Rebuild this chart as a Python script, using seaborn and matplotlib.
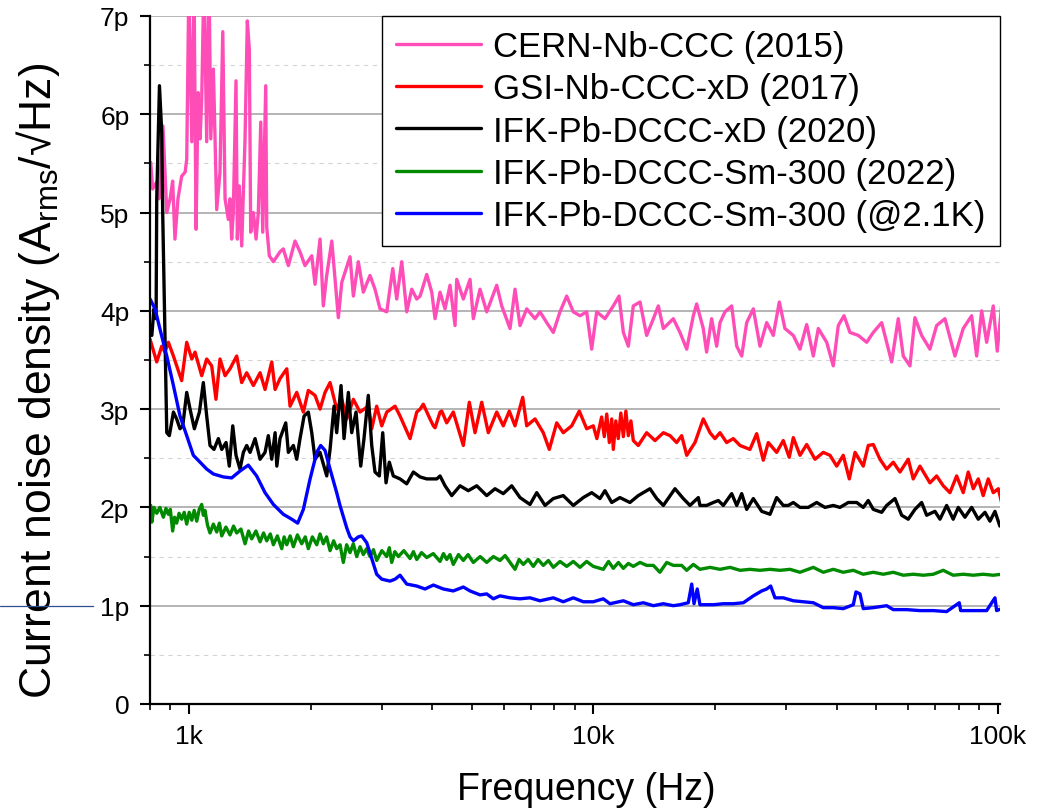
import numpy as np
import pandas as pd
import matplotlib
matplotlib.use("Agg")
import matplotlib.pyplot as plt
import matplotlib.transforms as mtransforms
from matplotlib.ticker import LogLocator, MultipleLocator, NullFormatter
import seaborn as sns

# Bruit en courant (pA/sqrt(Hz)), fréquences en Hz
cern_freq = [805, 814, 833, 844, 863, 882, 899, 912, 924, 940, 960, 979, 988, 1000, 1017, 1030, 1042, 1054,
             1066, 1076, 1090, 1107, 1122, 1133, 1150, 1172, 1194, 1213, 1229, 1252, 1264, 1276, 1288, 1308,
             1318, 1333, 1351, 1377, 1395, 1411, 1422, 1444, 1466, 1485, 1506, 1523, 1549, 1558, 1581, 1618,
             1680, 1712, 1762, 1830, 1883, 1937, 2013, 2051, 2110, 2150, 2192, 2256, 2342, 2388, 2503, 2551,
             2624, 2700, 2804, 2885, 2969, 3085, 3192, 3265, 3359, 3456, 3556, 3659, 3729, 3873, 3985, 4061,
             4178, 4298, 4422, 4550, 4594, 4770, 4955, 5049, 5245, 5449, 5768, 5935, 6222, 6401, 6586, 6842,
             7173, 7379, 7667, 7960, 8269, 8590, 8920, 9267, 9625, 9903, 10190, 10680, 11200, 11570, 11860,
             12200, 12550, 13040, 13540, 14070, 14470, 14890, 15760, 16370, 17010, 17660, 18000, 18690, 19050,
             19600, 20170, 20560, 21150, 21970, 22610, 23260, 23930, 24850, 25810, 26810, 27840, 28810, 29750,
             31200, 32410, 33670, 34960, 35970, 37730, 39170, 40300, 41640, 43080, 45160, 47370, 49180, 51590,
             54610, 56700, 58340, 60600, 62350, 64770, 67900, 70540, 73960, 78290, 82070, 86100, 88580, 91150,
             93780, 97370, 99610, 102100]
cern_pA = [5.51, 5.24, 5.31, 5.14, 5.88, 5.0, 5.14, 5.32, 4.73, 5.14, 5.37, 5.41, 5.54, 7.3, 5.72, 7.3, 4.83, 6.22,
           5.75, 6.15, 7.4, 5.72, 7.4, 5.75, 6.46, 5.03, 5.41, 6.84, 5.14, 4.93, 5.14, 4.73, 5.0, 6.34,
           4.73, 5.27, 4.66, 5.75, 6.95, 6.66, 4.80, 5.0, 4.73, 5.0, 5.92, 4.80, 6.29, 4.85, 4.56, 4.50,
           4.60, 4.63, 4.46, 4.71, 4.60, 4.46, 4.56, 4.27, 4.73, 4.05, 4.36, 4.71, 3.93, 4.29, 4.55, 4.15,
           4.50, 4.19, 4.36, 4.22, 4.02, 3.99, 4.43, 4.12, 4.50, 3.99, 4.22, 4.12, 4.15, 4.37, 4.19, 3.92,
           4.19, 4.02, 4.26, 3.85, 4.32, 4.12, 4.32, 3.92, 4.22, 3.99, 4.26, 4.05, 3.82, 4.22, 3.85, 4.02,
           3.92, 3.99, 3.88, 3.78, 3.99, 4.15, 3.99, 3.95, 3.99, 3.61, 3.99, 3.92, 4.05, 4.15, 3.78,
           3.64, 4.05, 4.09, 3.75, 3.92, 4.05, 3.82, 3.92, 3.78, 3.61, 3.95, 4.07, 3.82, 3.58,
           3.92, 3.64, 3.88, 3.99, 4.05, 3.64, 3.54, 3.88, 4.02, 3.64, 3.88, 3.75, 4.09, 3.82,
           3.75, 3.61, 3.86, 3.54, 3.82, 3.68, 3.44, 3.85, 3.95, 3.78, 3.75, 3.68, 3.78, 3.88,
           3.48, 3.92, 3.54, 3.44, 3.93, 3.75, 3.61, 3.85, 3.92, 3.54, 3.82, 3.95, 3.54, 4.00,
           3.68, 4.05, 3.59, 4.05]

gsi_freq = [802, 833, 857, 873, 890, 916, 960, 988, 1017, 1036, 1076, 1107, 1139, 1167, 1194, 1229, 1264, 1313,
            1351, 1390, 1444, 1500, 1543, 1603, 1634, 1680, 1746, 1779, 1848, 1919, 1974, 2051, 2110, 2171,
            2234, 2320, 2388, 2457, 2551, 2649, 2777, 2832, 2913, 2998, 3085, 3234, 3327, 3522, 3659, 3729,
            3798, 3946, 4022, 4061, 4178, 4218, 4339, 4505, 4770, 4935, 5098, 5296, 5499, 5768, 5988, 6196,
            6401, 6688, 6842, 7173, 7519, 7780, 8115, 8425, 8839, 9229, 9625, 9995, 10200, 10480, 10640,
            10790, 10950, 11100, 11200, 11360, 11520, 11690, 11860, 12030, 12200, 12380, 12550, 12910, 13540,
            14200, 14890, 15470, 16060, 16530, 17010, 17830, 18690, 19420, 19970, 20560, 21350, 22170, 23040,
            24380, 25330, 26300, 27060, 28380, 29470, 30490, 31200, 32410, 33670, 35300, 37000, 38450, 39940,
            41460, 42910, 44340, 46460, 47800, 49180, 51090, 53080, 55110, 57260, 60010, 61740, 64150, 67900,
            70540, 73250, 76100, 79050, 82070, 84450, 86900, 89400, 91940, 94620, 97370, 100200, 102100]
gsi_pA = [3.71, 3.48, 3.64, 3.58, 3.68, 3.54, 3.29, 3.68, 3.51, 3.58, 3.34, 3.51, 3.44, 3.10, 3.51, 3.34, 3.41, 3.54,
          3.27, 3.37, 3.24, 3.37, 3.20, 3.48, 3.20, 3.31, 3.41, 3.03, 3.17, 2.97, 3.19, 3.14, 3.00, 3.17,
          3.27, 3.00, 3.10, 2.90, 3.10, 2.97, 3.03, 2.80, 3.03, 2.83, 2.97, 3.03, 2.93, 2.70, 2.97, 3.00,
          3.05, 2.90, 2.83, 2.81, 2.97, 2.98, 2.86, 2.97, 2.63, 3.07, 2.76, 3.07, 2.76, 2.97, 2.83, 2.98,
          2.83, 3.12, 2.83, 2.90, 2.76, 2.59, 2.86, 2.76, 2.83, 2.98, 2.80, 2.83, 2.70, 2.92, 2.72,
          2.95, 2.66, 2.90, 2.59, 2.88, 2.70, 2.96, 2.72, 2.98, 2.73, 2.88, 2.68, 2.63, 2.76,
          2.68, 2.76, 2.73, 2.66, 2.73, 2.53, 2.66, 2.90, 2.76, 2.70, 2.76, 2.66, 2.70, 2.63,
          2.59, 2.75, 2.48, 2.66, 2.56, 2.68, 2.51, 2.71, 2.53, 2.64, 2.49, 2.56, 2.53, 2.42,
          2.53, 2.29, 2.56, 2.42, 2.63, 2.64, 2.49, 2.39, 2.46, 2.36, 2.49, 2.29, 2.42, 2.25,
          2.32, 2.22, 2.15, 2.32, 2.15, 2.36, 2.19, 2.29, 2.12, 2.29, 2.15, 2.19, 2.05]

xd_freq = [802, 810, 820, 830, 833, 846, 857, 862, 882, 895, 916, 933, 951, 966, 988, 1007, 1032, 1062, 1086,
           1107, 1128, 1154, 1183, 1206, 1236, 1259, 1284, 1308, 1338, 1364, 1390, 1417, 1458, 1500, 1543,
           1572, 1603, 1634, 1650, 1680, 1736, 1762, 1813, 1848, 1883, 1927, 1974, 2013, 2051, 2110, 2192,
           2234, 2285, 2320, 2378, 2419, 2479, 2527, 2590, 2660, 2710, 2777, 2832, 2885, 2957, 3015, 3072,
           3130, 3202, 3327, 3456, 3589, 3729, 3873, 3946, 4101, 4178, 4298, 4465, 4681, 4907, 5148, 5449,
           5713, 5988, 6282, 6586, 6971, 7243, 7594, 7960, 8425, 8920, 9441, 9903, 10380, 10680, 11100,
           11630, 12310, 12910, 13800, 14340, 14890, 15910, 16680, 17330, 18170, 18340, 19050, 19790, 20360,
           20950, 21970, 22610, 23260, 23930, 24850, 26060, 27330, 28380, 29470, 30320, 31200, 32410, 33970,
           35640, 37360, 39170, 40690, 42660, 44760, 46460, 47800, 49180, 51590, 53080, 55650, 57810, 60010,
           62350, 64770, 66650, 69870, 71890, 74680, 77510, 79790, 82870, 86100, 89400, 92880, 95550, 98310,
           101100]
xd_pA = [3.78, 3.75, 4.02, 3.92, 5.14, 6.29, 5.82, 4.97, 2.76, 2.73, 2.97, 2.90, 2.80, 2.83, 3.17, 3.00, 2.80, 2.97, 3.27,
         2.93, 2.63, 2.59, 2.70, 2.59, 2.66, 2.42, 2.83, 2.53, 2.39, 2.56, 2.63, 2.56, 2.70, 2.49, 2.56,
         2.73, 2.49, 2.76, 2.42, 2.70, 2.86, 2.56, 2.63, 2.49, 2.70, 2.93, 2.97, 2.76, 2.49, 2.56, 2.32,
         2.59, 3.03, 2.76, 3.24, 2.70, 3.17, 2.76, 2.97, 2.42, 2.70, 3.14, 2.63, 2.36, 2.32, 2.76, 2.25,
         2.46, 2.32, 2.29, 2.24, 2.36, 2.31, 2.29, 2.29, 2.29, 2.32, 2.22, 2.12, 2.22, 2.17, 2.22, 2.12,
         2.19, 2.14, 2.22, 2.10, 2.03, 2.15, 2.02, 2.09, 2.12, 2.02, 2.10, 2.15, 2.09, 2.17, 2.05,
         2.10, 2.05, 2.12, 2.19, 2.09, 2.02, 2.19, 2.09, 2.02, 2.10, 2.02, 2.02, 2.05, 2.07,
         2.02, 2.14, 2.02, 2.14, 1.98, 2.09, 1.96, 1.93, 2.10, 2.02, 2.02, 2.05, 2.00, 2.00,
         2.05, 2.00, 2.02, 2.00, 2.05, 2.05, 2.00, 2.07, 1.98, 1.95, 2.02, 2.09, 1.92, 1.88,
         1.98, 2.05, 1.92, 1.96, 1.88, 2.02, 1.88, 2.00, 1.90, 2.00, 1.88, 1.95, 1.86, 1.96,
         1.81]

sm300_freq = [805, 810, 820, 833, 848, 865, 878, 890, 900, 912, 922, 933, 946, 960, 974, 988, 1002, 1017, 1031,
              1046, 1061, 1076, 1086, 1096, 1112, 1128, 1150, 1172, 1190, 1206, 1235, 1264, 1290, 1313, 1345,
              1377, 1405, 1430, 1465, 1500, 1530, 1558, 1590, 1618, 1655, 1697, 1720, 1746, 1780, 1813, 1855,
              1901, 1940, 1974, 2020, 2071, 2110, 2150, 2190, 2234, 2280, 2320, 2365, 2409, 2455, 2503, 2550,
              2600, 2650, 2700, 2750, 2804, 2860, 2913, 3000, 3085, 3130, 3173, 3230, 3295, 3400, 3522, 3590,
              3659, 3760, 3873, 4020, 4178, 4260, 4339, 4420, 4505, 4640, 4770, 4900, 5049, 5250, 5449, 5660,
              5877, 6050, 6222, 6401, 6550, 6710, 6900, 7104, 7300, 7519, 7740, 7960, 8270, 8590, 8920, 9267,
              9620, 9995, 10580, 10900, 11200, 11530, 11860, 12200, 12550, 13040, 13540, 14070, 14600, 15180,
              15760, 16530, 17010, 17660, 18340, 19420, 20560, 21770, 23040, 24380, 25810, 27330, 28920, 30610,
              32410, 34960, 37000, 39170, 41460, 43900, 46460, 49180, 52060, 55110, 58340, 61740, 65380, 69210,
              73250, 77510, 82070, 86900, 91940, 97370, 102100]
sm300_pA = [2.02, 1.85, 2.00, 1.94, 2.00, 1.90, 1.99, 1.93, 1.98, 1.76, 1.90, 1.84, 1.94, 1.88, 1.95, 1.83, 1.95, 1.87, 1.97,
            1.86, 1.98, 2.03, 1.92, 1.97, 1.82, 1.74, 1.83, 1.75, 1.84, 1.71, 1.80, 1.72, 1.81, 1.74, 1.78,
            1.63, 1.76, 1.68, 1.76, 1.65, 1.74, 1.66, 1.73, 1.62, 1.71, 1.58, 1.70, 1.62, 1.71, 1.60, 1.72,
            1.63, 1.70, 1.58, 1.70, 1.62, 1.73, 1.63, 1.70, 1.56, 1.66, 1.58, 1.62, 1.44, 1.62, 1.54, 1.63,
            1.50, 1.60, 1.52, 1.58, 1.50, 1.57, 1.46, 1.56, 1.50, 1.59, 1.44, 1.55, 1.50, 1.56, 1.48, 1.55,
            1.47, 1.54, 1.49, 1.53, 1.45, 1.53, 1.47, 1.52, 1.42, 1.52, 1.46, 1.52, 1.44, 1.50, 1.44, 1.50,
            1.46, 1.51, 1.44, 1.37, 1.47, 1.42, 1.47, 1.40, 1.47, 1.41, 1.46, 1.39, 1.45, 1.40, 1.45, 1.39,
            1.45, 1.40, 1.37, 1.45, 1.38, 1.44, 1.38, 1.43, 1.40, 1.44, 1.41, 1.41, 1.34, 1.44,
            1.41, 1.41, 1.36, 1.42, 1.37, 1.39, 1.37, 1.39, 1.36, 1.37, 1.36, 1.37, 1.36, 1.37,
            1.34, 1.39, 1.34, 1.37, 1.34, 1.36, 1.32, 1.34, 1.32, 1.34, 1.31, 1.32, 1.31, 1.32,
            1.36, 1.31, 1.32, 1.31, 1.32, 1.31, 1.32]

k21_freq = [802, 825, 849, 882, 916, 951, 988, 1026, 1066, 1107, 1150, 1217, 1276, 1338, 1403, 1471, 1543, 1618,
            1712, 1796, 1858, 1919, 1994, 2071, 2118, 2171, 2234, 2320, 2364, 2457, 2503, 2551, 2624, 2675,
            2753, 2832, 2913, 2998, 3143, 3234, 3327, 3456, 3659, 3835, 4022, 4256, 4505, 4770, 4955, 5245,
            5449, 5657, 5877, 6222, 6586, 6971, 7379, 7960, 8425, 8920, 9441, 9995, 10580, 10990, 11860,
            12550, 13290, 14070, 14890, 15760, 16370, 17160, 17500, 17730, 18060, 18340, 19790, 20950, 22170,
            23480, 24850, 26060, 26810, 27430, 28110, 29470, 31200, 33020, 34960, 37000, 39170, 41460, 43900,
            44570, 45600, 46460, 49180, 53080, 55110, 59490, 64150, 69210, 74680, 80250, 80880, 86900, 93780,
            98310, 99260, 102100]
k21_pA = [4.12, 4.02, 3.81, 3.54, 3.24, 2.93, 2.73, 2.53, 2.46, 2.39, 2.34, 2.31, 2.30, 2.37, 2.43, 2.32, 2.15, 2.03,
          1.93, 1.88, 1.84, 1.98, 2.29, 2.56, 2.63, 2.58, 2.39, 2.15, 2.02, 1.79, 1.70, 1.66, 1.70, 1.71,
          1.64, 1.48, 1.32, 1.27, 1.25, 1.27, 1.31, 1.22, 1.20, 1.17, 1.21, 1.17, 1.15, 1.19, 1.15, 1.11,
          1.12, 1.07, 1.10, 1.08, 1.07, 1.08, 1.05, 1.08, 1.04, 1.08, 1.04, 1.04, 1.07, 1.02, 1.05,
          1.01, 1.03, 1.00, 1.02, 1.00, 1.01, 1.03, 1.22, 1.02, 1.17, 1.01, 1.01, 1.02, 1.02,
          1.03, 1.10, 1.15, 1.17, 1.20, 1.08, 1.08, 1.05, 1.04, 1.03, 0.98, 0.98, 0.97, 1.01,
          1.14, 1.12, 0.97, 0.98, 1.00, 0.96, 0.96, 0.95, 0.95, 0.94, 1.03, 0.95, 0.95, 0.95,
          1.08, 0.95, 0.97]

series = [
    ("CERN-Nb-CCC (2015)", cern_freq, cern_pA, "#ff4db8"),
    ("GSI-Nb-CCC-xD (2017)", gsi_freq, gsi_pA, "#ff0000"),
    ("IFK-Pb-DCCC-xD (2020)", xd_freq, xd_pA, "#000000"),
    ("IFK-Pb-DCCC-Sm-300 (2022)", sm300_freq, sm300_pA, "#008a00"),
    ("IFK-Pb-DCCC-Sm-300 (@2.1K)", k21_freq, k21_pA, "#0000ff"),
]

y_ticks = [0, 1, 2, 3, 4, 5, 6, 7]
y_tick_labels = ["0", "1p", "2p", "3p", "4p", "5p", "6p", "7p"]
x_ticks = [1e3, 1e4, 1e5]
x_tick_labels = ["1k", "10k", "100k"]

sns.set_theme(style="white")
plt.rcParams["font.family"] = ["Liberation Sans", "DejaVu Sans"]
plt.rcParams["mathtext.fontset"] = "custom"
plt.rcParams["mathtext.rm"] = "Liberation Sans"
for key in ["text.color", "axes.labelcolor", "xtick.color", "ytick.color"]:
    plt.rcParams[key] = "black"

fig = plt.figure(figsize=(10.42, 8.12), dpi=100)
ax = fig.add_axes([0.1436, 0.1318, 0.8158, 0.8473])

for name, f, v, c in series:
    df = pd.DataFrame({"freq": f, "noise": v})
    sns.lineplot(data=df, x="freq", y="noise", color=c, linewidth=2.4, label=name,
                 estimator=None, sort=False, ax=ax)

ax.set_xscale("log")
ax.set_xlim(800, 101000)
ax.set_ylim(0, 7)

ax.set_xticks(x_ticks)
ax.set_xticklabels(x_tick_labels)
ax.xaxis.set_minor_locator(LogLocator(base=10, subs=np.arange(2, 10)))
ax.xaxis.set_minor_formatter(NullFormatter())
ax.set_yticks(y_ticks)
ax.set_yticklabels(y_tick_labels)
ax.yaxis.set_minor_locator(MultipleLocator(0.5))

ax.tick_params(which="major", direction="out", length=7.5, width=1.5, color="black",
               labelsize=19, pad=7, bottom=True, left=True)
ax.tick_params(which="minor", direction="out", length=4, width=1.2, color="black",
               bottom=True, left=True)

# grille horizontale seulement
ax.set_axisbelow(True)
ax.yaxis.grid(True, which="major", color="#a8a8a8", linewidth=1.2)
ax.yaxis.grid(True, which="minor", color="#d4d4d4", linewidth=0.8, linestyle=(0, (4, 4)))
ax.xaxis.grid(False)

for side in ["top", "right"]:
    ax.spines[side].set_visible(False)
for side in ["left", "bottom"]:
    ax.spines[side].set_color("black")
    ax.spines[side].set_linewidth(1.6)

ax.set_xlabel("Frequency (Hz)", fontsize=27)
ax.xaxis.set_label_coords(0.514, -0.097)
ax.set_ylabel(r"Current noise density (A$_{\mathregular{rms}}$/√Hz)", fontsize=32)
ax.yaxis.set_label_coords(-0.103, 0.471)

leg = ax.legend(loc="upper right", bbox_to_anchor=(1.0, 1.0), borderaxespad=0, fontsize=25,
                frameon=True, fancybox=False, framealpha=1, edgecolor="black",
                handlelength=2.45, handletextpad=0.35, labelspacing=0.27, borderpad=0.4)
leg.get_frame().set_linewidth(1.0)

# petit trait parasite à gauche de l'axe, au niveau de 1p
trans = mtransforms.blended_transform_factory(fig.transFigure, ax.transData)
ax.plot([0, 0.089], [1, 1], transform=trans, color="#2e4d94", linewidth=0.9, clip_on=False)

fig.savefig("out.png", dpi=100)
